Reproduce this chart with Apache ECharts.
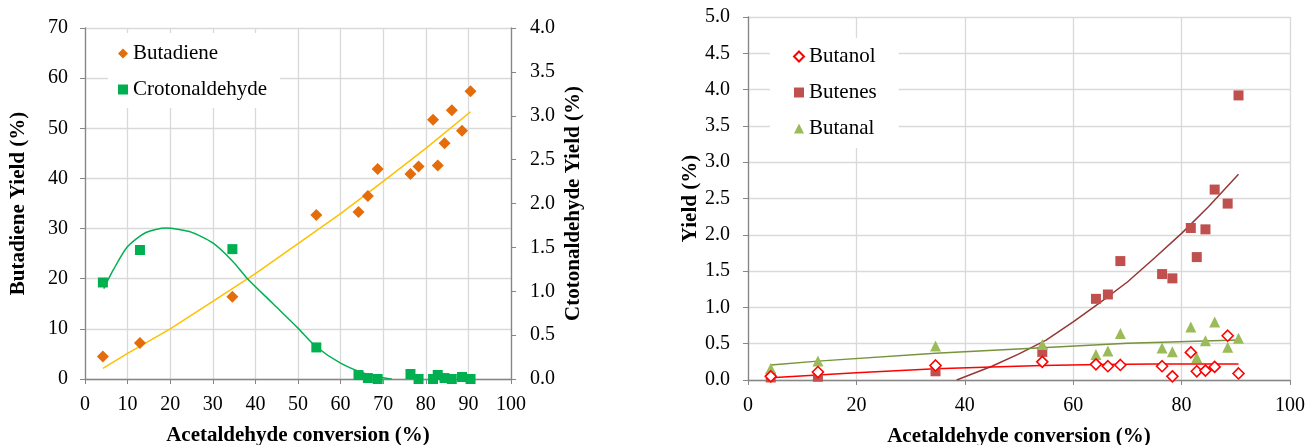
<!DOCTYPE html>
<html>
<head>
<meta charset="utf-8">
<script src="https://cdn.jsdelivr.net/npm/echarts@6/dist/echarts.min.js"></script>
<style>
html,body{margin:0;padding:0;background:#fff;}
#c{width:1307px;height:445px;}
</style>
</head>
<body>
<div id="c"></div>
<script>
// ---- data ----
const conversion = [4.2, 12.9, 34.6, 54.3, 64.2, 66.4, 68.7, 76.4, 78.3, 81.7, 82.8, 84.4, 86.1, 88.5, 90.5];
const butadiene = [4.5, 7.2, 16.4, 32.7, 33.3, 36.5, 41.9, 40.9, 42.4, 51.7, 42.6, 47.0, 53.6, 49.5, 57.4];
const crotonaldehyde = [1.10, 1.47, 1.48, 0.36, 0.045, 0.011, 0.0, 0.057, 0.0, 0.0, 0.046, 0.011, 0.0, 0.023, 0.0];
const butanol = [0.05, 0.11, 0.20, 0.25, 0.216, 0.19, 0.207, 0.19, 0.05, 0.38, 0.12, 0.13, 0.18, 0.61, 0.09];
const butenes = [0.035, 0.045, 0.12, 0.387, 1.118, 1.178, 1.638, 1.459, 1.40, 2.094, 1.693, 2.075, 2.623, 2.43, 3.92];
const butanal = [0.16, 0.26, 0.47, 0.49, 0.35, 0.40, 0.64, 0.44, 0.39, 0.73, 0.31, 0.54, 0.80, 0.45, 0.575];

// trend lines
const butadieneTrend = [[4.2,2.1],[10,5.1],[20,10.0],[30,15.5],[40,21.0],[50,27.0],[60,33.0],[70,39.4],[80,46.0],[90.5,53.3]];
const crotonTrend = [[4.4,1.03],[6.6,1.24],[10,1.51],[14.3,1.67],[19,1.72],[24.5,1.68],[30,1.55],[34.7,1.34],[38.2,1.14],[44.1,0.86],[50,0.58],[54.2,0.37],[60,0.18],[65.5,0.065],[70,0.015],[72,0]];
const butenesTrend = [[38.5,0],[45,0.19],[50,0.36],[55,0.55],[60,0.80],[65,1.07],[70,1.35],[75,1.68],[80,2.02],[85,2.39],[90.5,2.835]];
const butanolTrend = [[4.2,0.03],[12.9,0.07],[20,0.10],[34.6,0.155],[45,0.18],[54.2,0.20],[65,0.215],[75,0.22],[90.5,0.22]];
const butanalTrend = [[4.2,0.205],[12.9,0.26],[34.6,0.367],[54.2,0.445],[70,0.505],[90.5,0.55]];

const leftXTicks = {min: 0, max: 100, interval: 10};
const rightXTicks = {min: 0, max: 100, interval: 20};

// ---- chart ----
const pairs = (ys) => conversion.map((x, i) => [x, ys[i]]);
const FONT = 'Liberation Serif';
const axisGray = '#868686';
const gridGray = '#d9d9d9';

const baseX = {
  type: 'value',
  nameLocation: 'middle',
  nameGap: 46,
  nameTextStyle: {fontFamily: FONT, fontSize: 21, fontWeight: 'bold', color: '#000'},
  axisLine: {show: true, lineStyle: {color: axisGray, width: 1.3}},
  axisTick: {show: true, length: 5, lineStyle: {color: axisGray}},
  axisLabel: {fontFamily: FONT, fontSize: 20, color: '#000', margin: 16},
  splitLine: {show: true, lineStyle: {color: gridGray, width: 1.3}}
};
const baseY = {
  type: 'value',
  nameLocation: 'middle',
  nameTextStyle: {fontFamily: FONT, fontSize: 21, fontWeight: 'bold', color: '#000'},
  axisLine: {show: true, lineStyle: {color: axisGray, width: 1.3}},
  axisTick: {show: true, length: 5, lineStyle: {color: axisGray}},
  axisLabel: {fontFamily: FONT, fontSize: 20, color: '#000', margin: 17},
  splitLine: {show: true, lineStyle: {color: gridGray, width: 1.3}}
};
const trend = (data, xi, yi, color, smooth) => ({
  type: 'line', xAxisIndex: xi, yAxisIndex: yi, data: data, smooth: smooth, showSymbol: false,
  silent: true, lineStyle: {color: color, width: 1.5}, z: 2
});

const chart = echarts.init(document.getElementById('c'), null, {renderer: 'canvas'});
chart.setOption({
  animation: false,
  backgroundColor: '#fff',
  grid: [
    {left: 85, top: 28, width: 426, height: 351, containLabel: false, outerBoundsMode: 'none'},
    {left: 748, top: 17, width: 542, height: 363, containLabel: false, outerBoundsMode: 'none'}
  ],
  xAxis: [
    Object.assign({}, baseX, {gridIndex: 0, min: leftXTicks.min, max: leftXTicks.max, interval: leftXTicks.interval, name: 'Acetaldehyde conversion (%)'}),
    Object.assign({}, baseX, {gridIndex: 1, min: rightXTicks.min, max: rightXTicks.max, interval: rightXTicks.interval, name: 'Acetaldehyde conversion (%)'})
  ],
  yAxis: [
    Object.assign({}, baseY, {gridIndex: 0, min: 0, max: 70, interval: 10, position: 'left', name: 'Butadiene Yield (%)', nameGap: 56}),
    Object.assign({}, baseY, {gridIndex: 0, min: 0, max: 4, interval: 0.5, position: 'right', name: 'Ctotonaldehyde Yield (%)', nameGap: 52,
      splitLine: {show: false}, axisLabel: Object.assign({}, baseY.axisLabel, {margin: 19, formatter: v => v.toFixed(1)})}),
    Object.assign({}, baseY, {gridIndex: 1, min: 0, max: 5, interval: 0.5, position: 'left', name: 'Yield (%)', nameGap: 46,
      axisLabel: Object.assign({}, baseY.axisLabel, {margin: 18, formatter: v => v.toFixed(1)})})
  ],
  legend: [
    {
      data: [{name: 'Butadiene', icon: 'diamond'}, {name: 'Crotonaldehyde', icon: 'rect'}],
      orient: 'vertical', left: 108, top: 33, itemWidth: 10, itemHeight: 10, itemGap: 15,
      padding: [10, 13, 8, 10], backgroundColor: '#fff',
      textStyle: {fontFamily: FONT, fontSize: 21, color: '#000'}
    },
    {
      data: [{name: 'Butanol', icon: 'diamond'}, {name: 'Butenes', icon: 'rect'}, {name: 'Butanal', icon: 'triangle'}],
      orient: 'vertical', left: 770, top: 38, itemWidth: 10, itemHeight: 10, itemGap: 15,
      padding: [8, 22, 9, 23], backgroundColor: '#fff',
      textStyle: {fontFamily: FONT, fontSize: 21, color: '#000'}
    }
  ],
  series: [
    trend(butadieneTrend, 0, 0, '#FFC000', false),
    trend(crotonTrend, 0, 1, '#00B050', 0.25),
    {type: 'scatter', name: 'Butadiene', xAxisIndex: 0, yAxisIndex: 0, data: pairs(butadiene), symbol: 'diamond', symbolSize: 12, itemStyle: {color: '#E46C0A', opacity: 1}, z: 3},
    {type: 'scatter', name: 'Crotonaldehyde', xAxisIndex: 0, yAxisIndex: 1, data: pairs(crotonaldehyde), symbol: 'rect', symbolSize: 10, itemStyle: {color: '#00B050', opacity: 1}, z: 3},

    trend(butenesTrend, 1, 2, '#953735', false),
    trend(butanolTrend, 1, 2, '#FF0000', false),
    trend(butanalTrend, 1, 2, '#77933C', false),
    {type: 'scatter', name: 'Butenes', xAxisIndex: 1, yAxisIndex: 2, data: pairs(butenes), symbol: 'rect', symbolSize: 10, itemStyle: {color: '#C0504D', opacity: 1}, z: 3},
    {type: 'scatter', name: 'Butanal', xAxisIndex: 1, yAxisIndex: 2, data: pairs(butanal), symbol: 'triangle', symbolSize: 11, itemStyle: {color: '#9BBB59', opacity: 1}, z: 3},
    {type: 'scatter', name: 'Butanol', xAxisIndex: 1, yAxisIndex: 2, data: pairs(butanol), symbol: 'diamond', symbolSize: 11, itemStyle: {color: '#fff', borderColor: '#FF0000', borderWidth: 1.6, opacity: 1}, z: 4}
  ]
});
</script>
</body>
</html>
